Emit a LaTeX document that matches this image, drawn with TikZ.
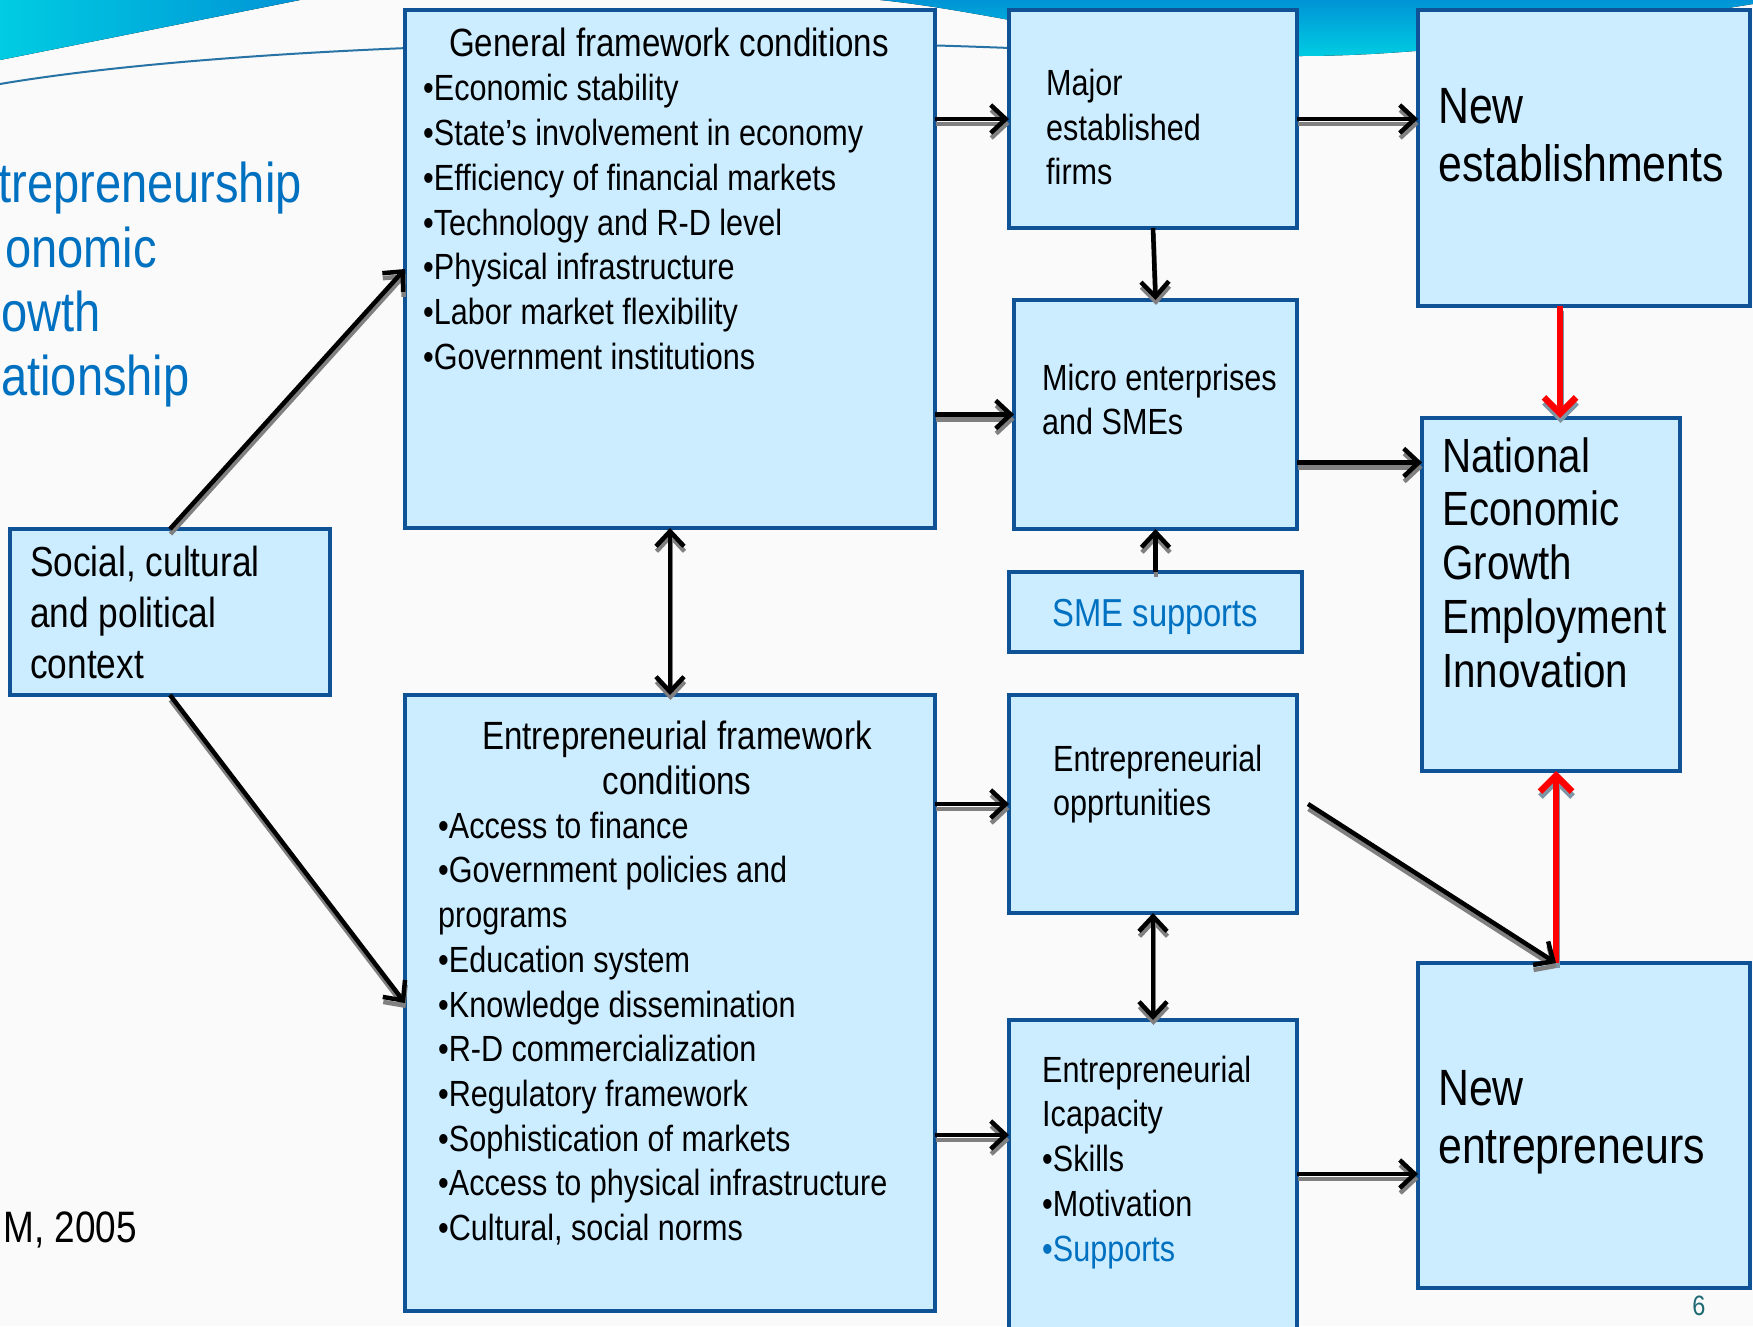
\documentclass[tikz,border=0pt]{standalone}
\usepackage{fontspec}
\setmainfont{Liberation Sans}[FakeStretch=0.84]
\usetikzlibrary{arrows.meta,calc}
\definecolor{boxfill}{RGB}{204,236,255}
\definecolor{boxline}{RGB}{16,82,150}
\definecolor{txtblue}{RGB}{0,112,192}
\definecolor{pgteal}{RGB}{30,105,115}
\definecolor{decoblue}{RGB}{0,148,214}
\definecolor{decocyan}{RGB}{0,204,226}
\definecolor{decoline}{RGB}{40,115,165}
\definecolor{bgc}{RGB}{250,250,250}
\definecolor{shadowgray}{RGB}{128,128,128}
\definecolor{redshadow}{RGB}{125,150,165}
\newcommand\fs[2]{\fontsize{#1}{#2}\selectfont}
\newcommand\sdraw[3]{\draw[#1,#2] #3; \draw[#1] #3;}
\begin{document}
\begin{tikzpicture}[x=1pt,y=-1pt,
  box/.style={draw=boxline, fill=boxfill, line width=4.5pt, rectangle, inner sep=0pt, outer sep=0pt, anchor=north west},
  txt/.style={inner sep=0pt, anchor=north west, align=left, text=black},
  body/.style={font=\fs{36.4}{44.7}},
  ttl/.style={font=\fs{39.4}{44.7}},
  arr/.style={line width=4.5pt, -{Straight Barb[length=15pt,width=28pt]}},
  darr/.style={line width=4.5pt, {Straight Barb[length=15pt,width=28pt]}-{Straight Barb[length=15pt,width=28pt]}},
  redarr/.style={line width=6.5pt, draw=red, -{Straight Barb[length=16pt,width=32pt]}},
  shd/.style={draw=shadowgray, transform canvas={shift={(0.5pt,-5pt)}}},
  rshd/.style={draw=redshadow, transform canvas={shift={(0.5pt,-5pt)}}}
]
\useasboundingbox (0,0) rectangle (1753,1326);
\clip (0,0) rectangle (1753,1326);
\fill[bgc] (0,0) rectangle (1753,1326);
% decorations
\fill[left color=decocyan, right color=decoblue] (0,0) -- (300,0) .. controls (190,22) and (90,42) .. (0,60) -- cycle;
\fill[top color=decoblue, bottom color=decocyan] (880,0) .. controls (1000,12) and (1150,56) .. (1300,56) .. controls (1460,56) and (1640,22) .. (1753,4) -- (1753,0) -- cycle;
\draw[decoline, line width=2pt] (0,84) .. controls (200,50) and (600,32) .. (1010,48);

% boxes
\node[box, minimum width=530pt, minimum height=518pt] (gen) at (405,10) {};
\node[box, minimum width=288pt, minimum height=218pt] (maj) at (1009,10) {};
\node[box, minimum width=332pt, minimum height=296pt] (newest) at (1418,10) {};
\node[box, minimum width=283pt, minimum height=229pt] (micro) at (1014,300) {};
\node[box, minimum width=293pt, minimum height=80pt] (sme) at (1009,572) {};
\node[box, minimum width=258pt, minimum height=353pt] (national) at (1422,418) {};
\node[box, minimum width=320pt, minimum height=166pt] (social) at (10,529) {};
\node[box, minimum width=530pt, minimum height=616pt] (entfw) at (405,695) {};
\node[box, minimum width=288pt, minimum height=218pt] (opp) at (1009,695) {};
\node[box, minimum width=288pt, minimum height=330pt] (cap) at (1009,1020) {};
\node[box, minimum width=332pt, minimum height=325pt] (newent) at (1418,963) {};

% texts
\node[txt, ttl, anchor=base] (gentitle) at (669,56) {General framework conditions};
\node[txt, body] (genlist) at (423,69.41) {\strut•Economic stability\\•State’s involvement in economy\\•Efficiency of financial markets\\•Technology and R-D level\\•Physical infrastructure\\•Labor market flexibility\\•Government institutions};
\node[txt, body] (majtxt) at (1046,63.85) {\strut Major\\established\\firms};
\node[txt, body] (microtxt) at (1042,358.7) {\strut Micro enterprises\\and SMEs};
\node[txt, font=\fs{39}{44.7}, anchor=base, text=txtblue] (smetxt) at (1155.5,626) {SME supports};
\node[txt, body] (opptxt) at (1053,739.7) {\strut Entrepreneurial\\opprtunities};
\node[txt, body] (captxt) at (1042,1050.7) {\strut Entrepreneurial\\Icapacity\\•Skills\\•Motivation\\\textcolor{txtblue}{•Supports}};
\node[txt, ttl, anchor=north, align=center] (entfwtitle) at (677,718) {\strut Entrepreneurial framework\\conditions};
\node[txt, body] (entfwlist) at (438,806.7) {\strut•Access to finance\\•Government policies and\\programs\\•Education system\\•Knowledge dissemination\\•R-D commercialization\\•Regulatory framework\\•Sophistication of markets\\•Access to physical infrastructure\\•Cultural, social norms};
\node[txt, font=\fs{51}{58}] (newesttxt) at (1438,82.4) {\strut New\\establishments};
\node[txt, font=\fs{51}{58}] (newenttxt) at (1438,1064.4) {\strut New\\entrepreneurs};
\node[txt, font=\fs{48}{53.7}] (nattxt) at (1442,434.4) {\strut National\\Economic\\Growth\\Employment\\Innovation};
\node[txt, font=\fs{42}{51.4}] (socialtxt) at (30,540) {\strut Social, cultural\\and political\\context};
% left cut-off title
\node[txt, font=\fs{56}{64}, text=txtblue, anchor=base east] (l1) at (302,202) {trepreneurship};
\node[txt, font=\fs{56}{64}, text=txtblue, anchor=base east] (l2) at (157,267) {onomic};
\node[txt, font=\fs{56}{64}, text=txtblue, anchor=base west] (l3) at (1,331) {owth};
\node[txt, font=\fs{56}{64}, text=txtblue, anchor=base west] (l4) at (1,395) {ationship};
\node[txt, font=\fs{44}{52}, anchor=base east] (src) at (137,1242) {M, 2005};
\node[txt, font=\fs{28}{32}, text=pgteal, anchor=base] (pg) at (1699,1315) {6};

% connector end points
\coordinate (m1) at ($(micro.east)+(0,48)$);
\coordinate (c1) at ($(cap.west)+(0,-50)$);
\coordinate (c2) at ($(cap.east)+(0,-11)$);
\coordinate (o1) at ($(opp.east)+(11,0)$);
\coordinate (r1) at ($(national.north)+(9,0)$);
\coordinate (r2) at ($(national.south)+(5,0)$);

% arrows
\sdraw{arr}{shd}{(social.north) -- (gen.west)}
\sdraw{arr}{shd}{(social.south) -- (entfw.west)}
\sdraw{darr}{shd}{(gen.south) -- (entfw.north)}
\sdraw{arr}{shd}{(gen.east |- maj.west) -- (maj.west)}
\sdraw{arr}{shd}{(gen.east |- micro.west) -- (micro.west)}
\sdraw{arr}{shd}{(maj.south) -- (micro.north)}
\sdraw{arr}{shd}{(maj.east) -- (maj.east -| newest.west)}
\sdraw{arr}{shd}{(m1) -- (m1 -| national.west)}
\sdraw{arr}{shd}{(sme.north) -- (micro.south)}
\sdraw{arr}{shd}{(entfw.east |- opp.west) -- (opp.west)}
\sdraw{darr}{shd}{(opp.south) -- (cap.north)}
\sdraw{arr}{shd}{(c1 -| entfw.east) -- (c1)}
\sdraw{arr}{shd}{(c2) -- (c2 -| newent.west)}
\sdraw{redarr}{rshd}{(r1 |- newest.south) -- (r1)}
\sdraw{redarr}{rshd}{(r2 |- newent.north) -- (r2)}
\sdraw{arr}{shd}{(o1) -- (r2 |- newent.north)}
\end{tikzpicture}
\end{document}
